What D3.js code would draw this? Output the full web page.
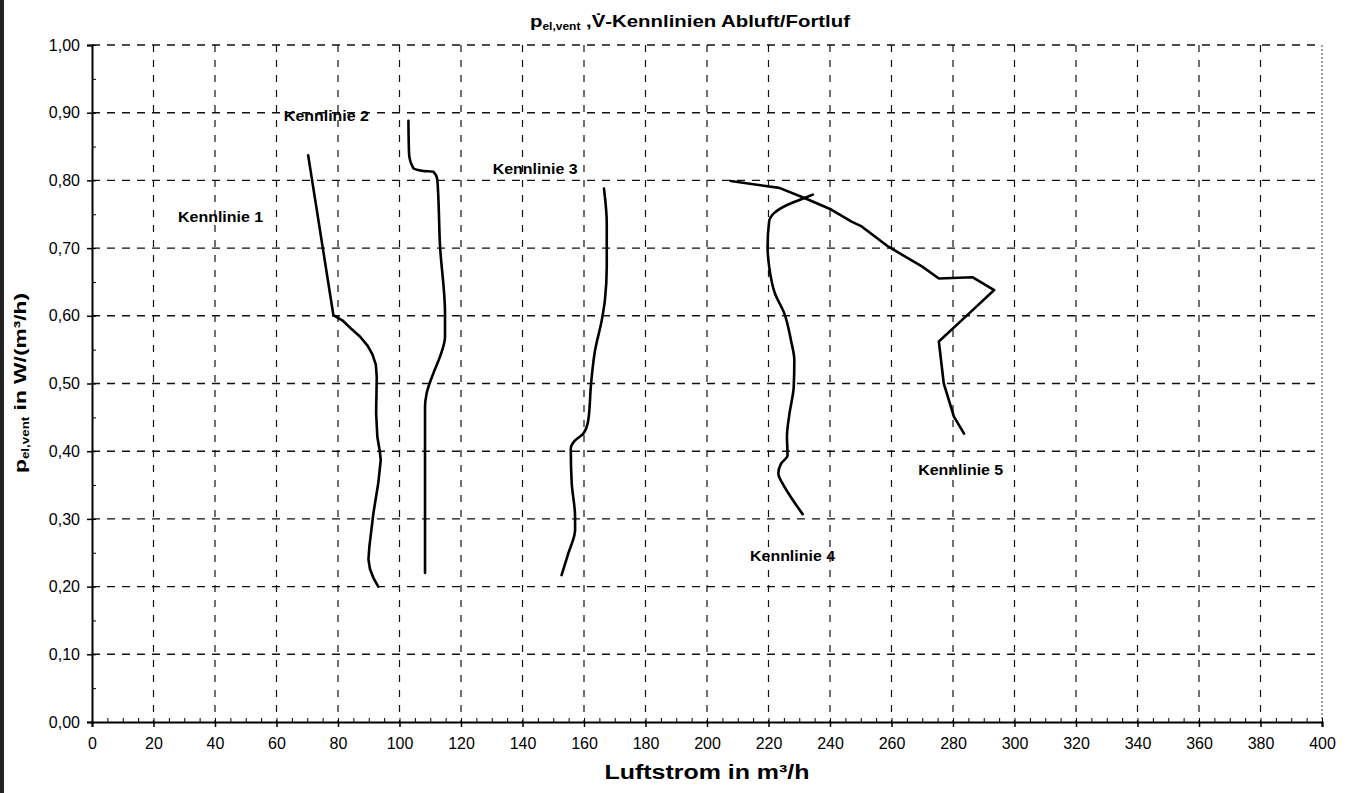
<!DOCTYPE html>
<html>
<head>
<meta charset="utf-8">
<script src="https://cdn.jsdelivr.net/npm/d3@7"></script>
<style>
  body { margin: 0; background: #fff; }
  text { font-family: "Liberation Sans", Arial, sans-serif; fill: #000; }
</style>
</head>
<body>
<div id="chart"></div>
<script>
// #####################################################
// Data
//
var xTicks = [0, 20, 40, 60, 80, 100, 120, 140, 160, 180, 200, 220, 240, 260, 280, 300, 320, 340, 360, 380, 400];
var xMinorTicks = [5, 10, 15, 25, 30, 35, 45, 50, 55, 65, 70, 75, 85, 90, 95, 105, 110, 115, 125, 130, 135,
  145, 150, 155, 165, 170, 175, 185, 190, 195, 205, 210, 215, 225, 230, 235, 245, 250, 255, 265, 270, 275,
  285, 290, 295, 305, 310, 315, 325, 330, 335, 345, 350, 355, 365, 370, 375, 385, 390, 395];
var yTicks = [0, 0.1, 0.2, 0.3, 0.4, 0.5, 0.6, 0.7, 0.8, 0.9, 1.0];
var yMinorTicks = [0.05, 0.15, 0.25, 0.35, 0.45, 0.55, 0.65, 0.75, 0.85, 0.95];

// [Luftstrom m3/h, p_el,vent W/(m3/h)]
var kennlinie1 = [[70.3, 0.837], [78.5, 0.601], [81.5, 0.593], [84.5, 0.580], [87.2, 0.569], [89.6, 0.556],
  [91.2, 0.543], [92.3, 0.528], [92.6, 0.510], [92.4, 0.456], [92.8, 0.421], [93.6, 0.400], [93.9, 0.387],
  [93.1, 0.353], [91.5, 0.308], [90.2, 0.259], [89.9, 0.240], [90.4, 0.226], [91.5, 0.213], [93.1, 0.200]];
var kennlinie2 = [[102.9, 0.888], [103.1, 0.840], [104.5, 0.818], [107.7, 0.814], [111.0, 0.813], [112.3, 0.801],
  [113.2, 0.702], [114.8, 0.604], [114.8, 0.569], [113.2, 0.540], [111.0, 0.515], [108.8, 0.485],
  [108.3, 0.466], [108.3, 0.382], [108.3, 0.220]];
var kennlinie3 = [[166.5, 0.788], [167.4, 0.737], [167.4, 0.673], [166.8, 0.623], [165.8, 0.594], [163.6, 0.549],
  [162.3, 0.500], [161.4, 0.446], [159.8, 0.426], [157.1, 0.416], [155.7, 0.404], [156.0, 0.353],
  [157.1, 0.303], [157.1, 0.284], [154.9, 0.249], [152.7, 0.217]];
var kennlinie4 = [[234.4, 0.779], [231.7, 0.774], [226.2, 0.764], [221.9, 0.752], [220.2, 0.739], [219.7, 0.702],
  [220.2, 0.673], [222.1, 0.633], [225.1, 0.604], [227.3, 0.564], [228.4, 0.534], [228.2, 0.495],
  [226.8, 0.455], [226.0, 0.421], [226.2, 0.394], [224.0, 0.381], [223.2, 0.367], [224.6, 0.352],
  [227.3, 0.332], [231.1, 0.307]];
var kennlinie5 = [[207.7, 0.799], [223.5, 0.789], [231.7, 0.774], [240.4, 0.757], [247.0, 0.739], [250.3, 0.732],
  [254.6, 0.717], [259.0, 0.702], [269.9, 0.673], [275.4, 0.655], [286.3, 0.657], [293.4, 0.638],
  [286.3, 0.608], [275.4, 0.562], [277.0, 0.500], [280.3, 0.451], [283.6, 0.426]];

var labelNames = ["Kennlinie 1", "Kennlinie 2", "Kennlinie 3", "Kennlinie 4", "Kennlinie 5"];
var labelX = [28.0, 62.4, 130.3, 214.0, 268.7];
var labelY = [0.747, 0.895, 0.817, 0.245, 0.372];

// #####################################################
// Plot
//
var margin = {top: 45, right: 29, bottom: 71, left: 92},
    width = 1351 - margin.left - margin.right,
    height = 793 - margin.top - margin.bottom;

var root = d3.select("#chart").append("svg")
    .attr("width", 1351)
    .attr("height", 793);

// scan border on the left
root.append("rect")
    .attr("x", 0).attr("y", 0)
    .attr("width", 4).attr("height", 793)
    .style("fill", "#222");

var svg = root.append("g")
    .attr("transform", "translate(" + margin.left + "," + margin.top + ")");

var x = d3.scaleLinear().domain([0, 400]).range([0, width]);
var y = d3.scaleLinear().domain([0, 1]).range([height, 0]);

var fmt = function(d) { return d3.format(".2f")(d).replace(".", ","); };

// grid
svg.selectAll(".hgrid")
    .data(yTicks.slice(1))
    .enter().append("line")
      .attr("x1", 0).attr("x2", width)
      .attr("y1", function(d) { return y(d); })
      .attr("y2", function(d) { return y(d); })
      .style("stroke", "#111")
      .style("stroke-width", 1.4)
      .style("stroke-dasharray", "8,7");

svg.selectAll(".vgrid")
    .data(xTicks.slice(1))
    .enter().append("line")
      .attr("x1", function(d) { return x(d); })
      .attr("x2", function(d) { return x(d); })
      .attr("y1", 0).attr("y2", height)
      .style("stroke", "#111")
      .style("stroke-width", function(d) { return d == 400 ? 0.8 : 1.2; })
      .style("stroke-dasharray", function(d) { return d == 400 ? "2,2" : "7,8"; });

// curves (2-4 fall steadily in y, so a y-monotone spline keeps them from overshooting)
var smoothLine = d3.line()
    .x(function(d) { return x(d[0]); })
    .y(function(d) { return y(d[1]); })
    .curve(d3.curveMonotoneY);

var straightLine = d3.line()
    .x(function(d) { return x(d[0]); })
    .y(function(d) { return y(d[1]); });

function drawCurve(c, gen) {
  svg.append("path")
      .datum(c)
      .attr("fill", "none")
      .attr("stroke", "#000")
      .attr("stroke-width", 2.6)
      .attr("stroke-linejoin", "round")
      .attr("stroke-linecap", "round")
      .attr("d", gen);
}

drawCurve(kennlinie1, straightLine);
drawCurve(kennlinie2, smoothLine);
drawCurve(kennlinie3, smoothLine);
drawCurve(kennlinie4, smoothLine);
drawCurve(kennlinie5, straightLine);

// curve labels
svg.selectAll(".klabel")
    .data(labelNames)
    .enter().append("text")
      .attr("x", function(d, i) { return x(labelX[i]); })
      .attr("y", function(d, i) { return y(labelY[i]); })
      .attr("dy", "0.35em")
      .style("font-size", "15px")
      .style("font-weight", "bold")
      .attr("textLength", 85)
      .attr("lengthAdjust", "spacingAndGlyphs")
      .text(function(d) { return d; });

// X axis
var xAxis = svg.append("g")
    .attr("transform", "translate(0," + height + ")")
    .call(d3.axisBottom(x).tickValues(xTicks).tickFormat(d3.format("d")).tickSize(5).tickPadding(11));
svg.append("g")
    .attr("transform", "translate(0," + height + ")")
    .call(d3.axisBottom(x).tickValues(xTicks.concat(xMinorTicks)).tickFormat("").tickSize(-4).tickSizeOuter(0))
    .select(".domain").remove();

// Y axis
var yAxis = svg.append("g")
    .call(d3.axisLeft(y).tickValues(yTicks).tickFormat(fmt).tickSize(5).tickPadding(7));
svg.append("g")
    .call(d3.axisLeft(y).tickValues(yMinorTicks.concat(yTicks)).tickFormat("").tickSize(-4).tickSizeOuter(0))
    .select(".domain").remove();

[xAxis, yAxis].forEach(function(a) {
  a.select(".domain").style("stroke-width", 2).style("stroke", "#000");
  a.selectAll(".tick line").style("stroke-width", 1.5);
  a.selectAll("text")
      .style("font-size", "16px")
      .style("font-family", "'Liberation Sans', Arial, sans-serif")
      .style("fill", "#000");
});
svg.selectAll(".tick line").style("stroke", "#000");

// Titles
var title = root.append("text")
    .attr("x", 690)
    .attr("y", 27)
    .style("text-anchor", "middle")
    .style("font-size", "17px")
    .style("font-weight", "bold")
    .attr("textLength", 320)
    .attr("lengthAdjust", "spacingAndGlyphs");
title.append("tspan").text("p");
title.append("tspan").attr("dy", 3).style("font-size", "10px").text("el,vent");
title.append("tspan").attr("dy", -3).text(" ,V\u0307-Kennlinien Abluft/Fortluf");

root.append("text")
    .attr("x", margin.left + width / 2)
    .attr("y", 779)
    .style("text-anchor", "middle")
    .style("font-size", "20px")
    .style("font-weight", "bold")
    .attr("textLength", 205)
    .attr("lengthAdjust", "spacingAndGlyphs")
    .text("Luftstrom in m\u00b3/h");

var yTitle = root.append("text")
    .attr("transform", "translate(26,383) rotate(-90)")
    .style("text-anchor", "middle")
    .style("font-size", "17px")
    .style("font-weight", "bold")
    .attr("textLength", 180)
    .attr("lengthAdjust", "spacingAndGlyphs");
yTitle.append("tspan").text("p");
yTitle.append("tspan").attr("dy", 3).style("font-size", "10px").text("el,vent");
yTitle.append("tspan").attr("dy", -3).text(" in W/(m\u00b3/h)");
</script>
</body>
</html>
